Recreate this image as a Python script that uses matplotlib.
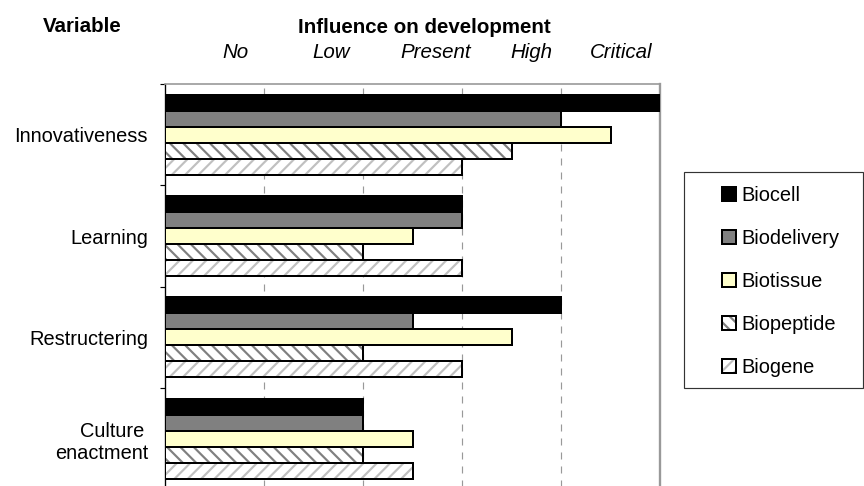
import matplotlib
matplotlib.use("Agg")
import matplotlib.pyplot as plt
from matplotlib.patches import Patch, Rectangle
from matplotlib.legend_handler import HandlerTuple
import numpy as np

# ---- data -------------------------------------------------------------
variables = ["Innovativeness", "Learning", "Restructering", "    Culture\nenactment"]
levels = ["No", "Low", "Present", "High", "Critical"]
companies = ["Biocell", "Biodelivery", "Biotissue", "Biopeptide", "Biogene"]

biocell = [5, 3, 4, 2]
biodelivery = [4, 3, 2.5, 2]
biotissue = [4.5, 2.5, 3.5, 2.5]
biopeptide = [3.5, 2, 2, 2]
biogene = [3, 3, 3, 2.5]

series = [biocell, biodelivery, biotissue, biopeptide, biogene]

# ---- styling ----------------------------------------------------------
face_colors = ["#000000", "#808080", "#FFFFCC", "#FFFFFF", "#FFFFFF"]
hatches = [None, None, None, "\\\\\\", "///"]
hatch_colors = [None, None, None, "#808080", "#C0C0C0"]

plt.rcParams["font.family"] = ["Liberation Sans", "DejaVu Sans"]
plt.rcParams["hatch.linewidth"] = 1.3
plt.rcParams["lines.scale_dashes"] = False

W, H, DPI = 864, 486, 120
fig = plt.figure(figsize=(W / DPI, H / DPI), dpi=DPI)


def fx(px):
    return px / W


def fy(py):
    return 1 - py / H


ax_left, ax_right, ax_top, ax_bottom = 165, 660, 84, 489.5
ax = fig.add_axes([fx(ax_left), fy(ax_bottom),
                   (ax_right - ax_left) / W, (ax_bottom - ax_top) / H])

n = len(series)
bar_h = 0.158
ypos = np.arange(len(variables))
edge_lw = 1.2

for i, vals in enumerate(series):
    y = ypos + (i - (n - 1) / 2) * bar_h
    if hatches[i] is None:
        ax.barh(y, vals, height=bar_h, color=face_colors[i],
                edgecolor="black", linewidth=edge_lw, zorder=3)
    else:
        ax.barh(y, vals, height=bar_h, color=face_colors[i],
                edgecolor=hatch_colors[i], hatch=hatches[i],
                linewidth=0, zorder=3)
        ax.barh(y, vals, height=bar_h, fill=False,
                edgecolor="black", linewidth=edge_lw, zorder=3)

ax.set_xlim(0, 5)
ax.set_ylim(len(variables) - 0.5, -0.5)

# vertical dashed grid at level boundaries
ax.set_xticks([1, 2, 3, 4])
ax.tick_params(axis="x", length=0, labelbottom=False)
ax.grid(axis="x", color="#999999", linewidth=0.7,
        linestyle=(0, (4.2, 4.2)), zorder=0)

# category separators as outward ticks, labels at category centres
ax.set_yticks(np.arange(len(variables) + 1) - 0.5)
ax.set_yticklabels([])
ax.tick_params(axis="y", which="major", length=3.2, width=0.7,
               direction="out", color="black")
ax.set_yticks(ypos, minor=True)
ax.set_yticklabels(variables, minor=True)
ax.tick_params(axis="y", which="minor", length=0, pad=10.2, labelsize=12)
for lab in ax.get_yticklabels(minor=True):
    lab.set_multialignment("center")
    lab.set_linespacing(1.2)

ax.spines["bottom"].set_visible(False)
ax.spines["left"].set_color("black")
ax.spines["left"].set_linewidth(0.8)
ax.spines["top"].set_color("#999999")
ax.spines["top"].set_linewidth(1.0)
ax.spines["right"].set_color("#999999")
ax.spines["right"].set_linewidth(1.4)

# ---- headings -----------------------------------------------------------
fig.text(fx(82), fy(32), "Variable", ha="center", va="baseline",
         fontsize=12.3, fontweight="bold")
fig.text(fx(424), fy(33), "Influence on development", ha="center",
         va="baseline", fontsize=12.3, fontweight="bold")
level_centres = [235, 331, 436, 531, 621]
for name, cx in zip(levels, level_centres):
    fig.text(fx(cx), fy(58), name, ha="center", va="baseline",
             fontsize=12.3, fontstyle="italic")

# ---- legend -------------------------------------------------------------
handles = []
for i in range(n):
    if hatches[i] is None:
        handles.append(Patch(facecolor=face_colors[i], edgecolor="black",
                             linewidth=edge_lw))
    else:
        handles.append((Patch(facecolor=face_colors[i],
                              edgecolor=hatch_colors[i], hatch=hatches[i],
                              linewidth=0),
                        Patch(fill=False, edgecolor="black",
                              linewidth=edge_lw)))

fig.legend(handles, companies, loc="upper left",
           bbox_to_anchor=(fx(722), fy(186)), frameon=False,
           borderpad=0, borderaxespad=0, fontsize=12,
           handlelength=0.7, handleheight=0.7, handletextpad=0.25,
           labelspacing=1.2,
           handler_map={tuple: HandlerTuple(ndivide=1, pad=0)})
fig.patches.append(Rectangle((fx(684), fy(388)), (863 - 684) / W,
                             (388 - 172) / H, transform=fig.transFigure,
                             fill=False, edgecolor="#333333",
                             linewidth=0.7))

fig.savefig("out.png", dpi=DPI)
